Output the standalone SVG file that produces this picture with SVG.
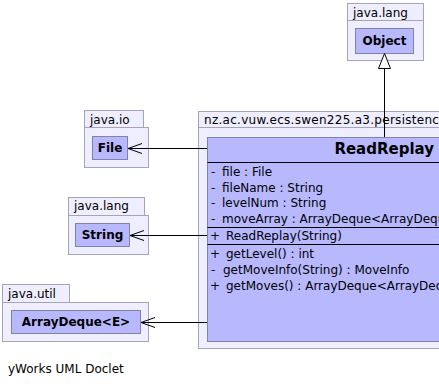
<svg xmlns="http://www.w3.org/2000/svg" width="439" height="387" viewBox="0 0 439 387">
  <defs>
    <style>
      .pkg { fill: #eeeeff; stroke: #a4a4b8; stroke-width: 1; }
      .cls { fill: #b8b8ff; stroke: #8282a6; stroke-width: 1; }
      .sep { stroke: #000; stroke-width: 1; }
      .edge { stroke: #000; stroke-width: 1; fill: none; }
      text { font-family: "DejaVu Sans", "Liberation Sans", sans-serif; font-size: 12px; fill: #000; }
      .name { font-weight: bold; }
      .title { font-weight: bold; font-size: 15px; }
    </style>
    <!-- open dependency arrowhead, tip at the start of the line -->
    <marker id="open" viewBox="0 0 16 12" refX="1" refY="6" markerWidth="16" markerHeight="12" markerUnits="userSpaceOnUse" orient="auto">
      <path d="M15,1 L1,6 L15,11" fill="none" stroke="#000" stroke-width="1"/>
    </marker>
  </defs>

  <rect width="439" height="387" fill="#fff"/>

  <!-- java.lang / Object -->
  <g id="pkg-java-lang-object">
    <rect class="pkg" x="347.5" y="3.5" width="76" height="17"/>
    <rect class="pkg" x="347.5" y="20.5" width="76" height="40"/>
    <text x="353" y="17">java.lang</text>
    <g id="Object">
      <rect class="cls" x="355.5" y="28.5" width="58" height="25"/>
      <text class="name" x="384.5" y="45" text-anchor="middle">Object</text>
    </g>
  </g>

  <!-- java.io / File -->
  <g id="pkg-java-io">
    <rect class="pkg" x="84.5" y="110.5" width="59" height="17"/>
    <rect class="pkg" x="84.5" y="127.5" width="64" height="40"/>
    <text x="90" y="124">java.io</text>
    <g id="File">
      <rect class="cls" x="92.5" y="136.5" width="35" height="23"/>
      <text class="name" x="110" y="152" text-anchor="middle">File</text>
    </g>
  </g>

  <!-- java.lang / String -->
  <g id="pkg-java-lang-string">
    <rect class="pkg" x="68.5" y="197.5" width="76" height="18"/>
    <rect class="pkg" x="68.5" y="215.5" width="80" height="39"/>
    <text x="74" y="210">java.lang</text>
    <g id="String">
      <rect class="cls" x="75.5" y="223.5" width="54" height="23"/>
      <text class="name" x="102.5" y="239" text-anchor="middle">String</text>
    </g>
  </g>

  <!-- java.util / ArrayDeque -->
  <g id="pkg-java-util">
    <rect class="pkg" x="2.5" y="284.5" width="67" height="18"/>
    <rect class="pkg" x="2.5" y="302.5" width="146" height="39"/>
    <text x="8" y="298">java.util</text>
    <g id="ArrayDeque">
      <rect class="cls" x="11.5" y="310.5" width="129" height="23"/>
      <text class="name" x="76" y="326" text-anchor="middle">ArrayDeque&lt;E&gt;</text>
    </g>
  </g>

  <!-- nz.ac.vuw.ecs.swen225.a3.persistence / ReadReplay -->
  <g id="pkg-persistence">
    <rect class="pkg" x="198.5" y="111.5" width="260" height="16"/>
    <rect class="pkg" x="198.5" y="127.5" width="260" height="221"/>
    <text x="204" y="124" letter-spacing="0.28">nz.ac.vuw.ecs.swen225.a3.persistence</text>
    <g id="ReadReplay">
      <rect class="cls" x="207.5" y="137.5" width="250" height="204"/>
      <text class="title" x="434" y="154" text-anchor="end">ReadReplay</text>
      <line class="sep" x1="207.5" y1="162.5" x2="458" y2="162.5"/>
      <text x="211" y="176">-</text><text x="222" y="176">file : File</text>
      <text x="211" y="191.5">-</text><text x="222" y="191.5">fileName : String</text>
      <text x="211" y="207">-</text><text x="222" y="207">levelNum : String</text>
      <text x="211" y="222.5">-</text><text x="222" y="222.5">moveArray : ArrayDeque&lt;ArrayDeque&lt;MoveInfo&gt;&gt;</text>
      <line class="sep" x1="207.5" y1="227.5" x2="458" y2="227.5"/>
      <text x="210" y="240">+</text><text x="226" y="240">ReadReplay(String)</text>
      <line class="sep" x1="207.5" y1="244.5" x2="458" y2="244.5"/>
      <text x="210" y="257.5">+</text><text x="226" y="257.5">getLevel() : int</text>
      <text x="211" y="273.5">-</text><text x="223" y="273.5">getMoveInfo(String) : MoveInfo</text>
      <text x="210" y="289.5">+</text><text x="226" y="289.5">getMoves() : ArrayDeque&lt;ArrayDeque&lt;MoveInfo&gt;&gt;</text>
    </g>
  </g>

  <!-- connectors -->
  <g id="edges">
    <line class="edge" x1="384.5" y1="68" x2="384.5" y2="137"/>
    <path d="M384.5,53.5 L378.5,68.5 L390.5,68.5 Z" fill="#fff" stroke="#000" stroke-width="1"/>
    <line class="edge" x1="128" y1="148.5" x2="207" y2="148.5" marker-start="url(#open)"/>
    <line class="edge" x1="130" y1="235.5" x2="207" y2="235.5" marker-start="url(#open)"/>
    <line class="edge" x1="141" y1="322.5" x2="207" y2="322.5" marker-start="url(#open)"/>
  </g>

  <text x="8" y="373">yWorks UML Doclet</text>
</svg>
